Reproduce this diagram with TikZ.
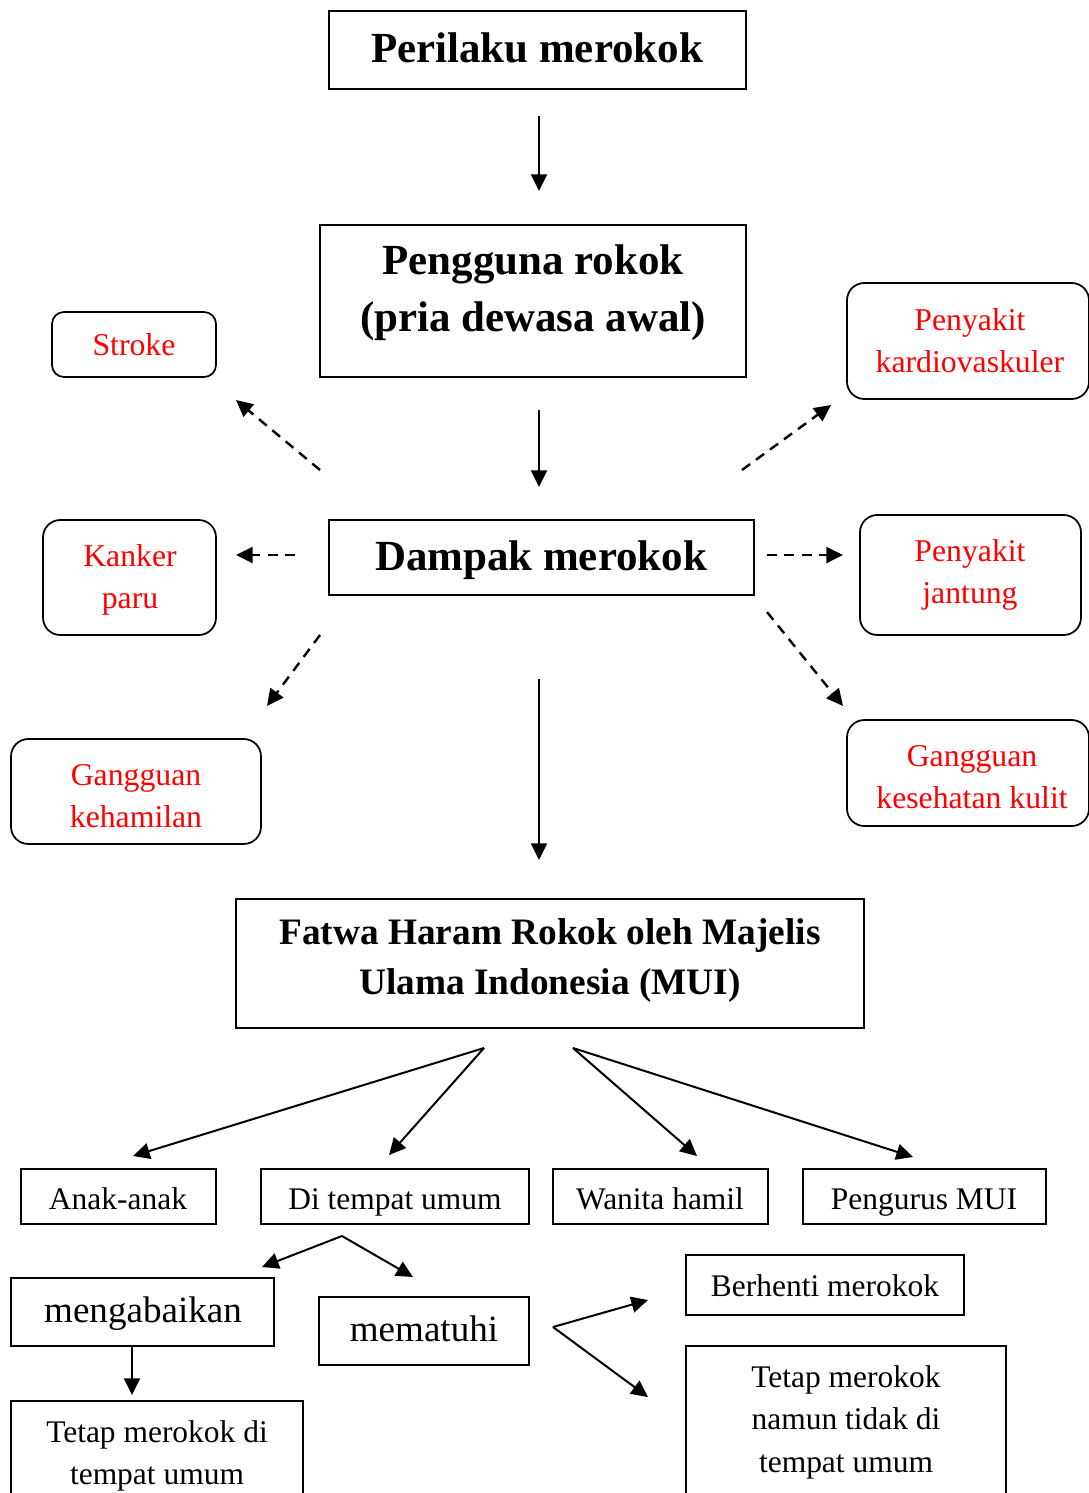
\documentclass[tikz,border=0pt]{standalone}
\usepackage{fontspec}
\setmainfont{Liberation Serif}
\usetikzlibrary{arrows.meta,fit}
\newcommand\mkbox[6]{%
  \path (#2,#3) coordinate (#1-nw) (#4,#5) coordinate (#1-se);
  \node[fit=(#1-nw)(#1-se), inner sep=0pt, #6] (#1) {};}
\begin{document}
\begin{tikzpicture}[x=0.75pt,y=-0.75pt,
  sq/.style={draw, line width=1.3pt},
  sqt/.style={draw, line width=1.1pt},
  rbox/.style={draw, line width=1.3pt, rounded corners=13pt},
  rtext/.style={text=red, font=\fontsize{23.8}{28}\selectfont, anchor=base, inner sep=0pt},
  btext/.style={font=\fontsize{23.6}{28}\selectfont, anchor=base, inner sep=0pt},
  mtext/.style={font=\fontsize{27.8}{32}\selectfont, anchor=base, inner sep=0pt},
  ttext/.style={font=\bfseries\fontsize{32.2}{36}\selectfont, anchor=base, inner sep=0pt},
  ftext/.style={font=\bfseries\fontsize{28}{34}\selectfont, anchor=base, inner sep=0pt},
  arr/.style={-{Triangle[length=12.5pt,width=12pt]}, line width=1.5pt},
  darr/.style={arr, line width=1.8pt, dash pattern=on 7.5pt off 5.5pt},
]
\useasboundingbox (0,0) rectangle (1089,1493);
\clip (0,0) rectangle (1089,1493);

% boxes
\mkbox{perilaku}{329}{11}{746}{89}{sq}
\mkbox{pengguna}{320}{225}{746}{377}{sq}
\mkbox{dampak}{329}{520}{754}{595}{sq}
\mkbox{fatwa}{236}{899}{864}{1028}{sq}
\mkbox{stroke}{52}{312}{216}{377}{rbox, rounded corners=9pt}
\mkbox{kardio}{847}{283}{1089}{399}{rbox}
\mkbox{kanker}{43}{520}{216}{635}{rbox}
\mkbox{jantung}{860}{515}{1081}{635}{rbox}
\mkbox{hamil}{11}{739}{261}{844}{rbox}
\mkbox{kulit}{847}{720}{1089}{826}{rbox}
\mkbox{anak}{21}{1169}{216}{1224}{sqt}
\mkbox{umum}{261}{1169}{529}{1224}{sqt}
\mkbox{wanita}{553}{1169}{768}{1224}{sqt}
\mkbox{pengurus}{803}{1169}{1046}{1224}{sqt}
\mkbox{abai}{11}{1278}{274}{1346}{sqt}
\mkbox{patuh}{319}{1297}{529}{1365}{sqt}
\mkbox{berhenti}{686}{1255}{964}{1315}{sqt}
\mkbox{tetapA}{11}{1401}{303}{1510}{sqt}
\mkbox{tetapB}{686}{1346}{1006}{1510}{sqt}

% texts
\node[ttext] (tPerilaku) at (537,62) {Perilaku merokok};
\node[ttext] (tPeng1) at (533,274) {Pengguna rokok};
\node[ttext] (tPeng2) at (533,331) {(pria dewasa awal)};
\node[ttext] (tDampak) at (541,570) {Dampak merokok};
\node[ftext] (tFatwa1) at (550,944) {Fatwa Haram Rokok oleh Majelis};
\node[ftext] (tFatwa2) at (550,994) {Ulama Indonesia (MUI)};

\node[rtext] (tStroke) at (134,355) {Stroke};
\node[rtext] (tKardio1) at (970,330) {Penyakit};
\node[rtext] (tKardio2) at (970,372) {kardiovaskuler};
\node[rtext] (tKanker1) at (130,566) {Kanker};
\node[rtext] (tKanker2) at (130,608) {paru};
\node[rtext] (tJantung1) at (970,561) {Penyakit};
\node[rtext] (tJantung2) at (970,603) {jantung};
\node[rtext] (tHamil1) at (136,785) {Gangguan};
\node[rtext] (tHamil2) at (136,827) {kehamilan};
\node[rtext] (tKulit1) at (972,766) {Gangguan};
\node[rtext] (tKulit2) at (972,808) {kesehatan kulit};

\node[btext] (tAnak) at (118,1209) {Anak-anak};
\node[btext] (tUmum) at (395,1209) {Di tempat umum};
\node[btext] (tWanita) at (660,1209) {Wanita hamil};
\node[btext] (tPengurus) at (924,1209) {Pengurus MUI};
\node[mtext] (tAbai) at (143,1322) {mengabaikan};
\node[mtext] (tPatuh) at (424,1341) {mematuhi};
\node[btext] (tBerhenti) at (825,1296) {Berhenti merokok};
\node[btext] (tTetapA1) at (157,1442) {Tetap merokok di};
\node[btext] (tTetapA2) at (157,1484) {tempat umum};
\node[btext] (tTetapB1) at (846,1387) {Tetap merokok};
\node[btext] (tTetapB2) at (846,1429) {namun tidak di};
\node[btext] (tTetapB3) at (846,1472) {tempat umum};

% connector end points
\coordinate (c1s) at (539,116);  \coordinate (c1e) at (539,191);
\coordinate (c2s) at (539,410);  \coordinate (c2e) at (539,487);
\coordinate (c3s) at (539,679);  \coordinate (c3e) at (539,860);
\coordinate (dStrokeS) at (320,470); \coordinate (dStrokeE) at (236,400);
\coordinate (dKardioS) at (742,470); \coordinate (dKardioE) at (831,405);
\coordinate (dKankerS) at (295,555); \coordinate (dKankerE) at (236,555);
\coordinate (dJantungS) at (767,555); \coordinate (dJantungE) at (843,555);
\coordinate (dHamilS) at (320,635); \coordinate (dHamilE) at (267,706);
\coordinate (dKulitS) at (767,612); \coordinate (dKulitE) at (843,706);
\coordinate (fL) at (484,1048); \coordinate (fR) at (573,1048);
\coordinate (eAnak) at (133,1156); \coordinate (eUmum) at (389,1155);
\coordinate (eWanita) at (697,1156); \coordinate (ePengurus) at (913,1157);
\coordinate (uS) at (342,1236); \coordinate (eAbai) at (262,1267); \coordinate (ePatuh) at (413,1277);
\coordinate (aS) at (132,1347); \coordinate (eTetapA) at (132,1395);
\coordinate (pS) at (553,1327); \coordinate (eBerhenti) at (648,1300); \coordinate (eTetapB) at (648,1397);

% solid arrows
\draw[arr] (c1s) -- (c1e);
\draw[arr] (c2s) -- (c2e);
\draw[arr] (c3s) -- (c3e);
% dashed arrows
\draw[darr] (dStrokeS) -- (dStrokeE);
\draw[darr] (dKardioS) -- (dKardioE);
\draw[darr] (dKankerS) -- (dKankerE);
\draw[darr] (dJantungS) -- (dJantungE);
\draw[darr] (dHamilS) -- (dHamilE);
\draw[darr] (dKulitS) -- (dKulitE);
% bottom arrows
\draw[arr] (fL) -- (eAnak);
\draw[arr] (fL) -- (eUmum);
\draw[arr] (fR) -- (eWanita);
\draw[arr] (fR) -- (ePengurus);
\draw[arr] (uS) -- (eAbai);
\draw[arr] (uS) -- (ePatuh);
\draw[arr] (aS) -- (eTetapA);
\draw[arr] (pS) -- (eBerhenti);
\draw[arr] (pS) -- (eTetapB);
\end{tikzpicture}
\end{document}
